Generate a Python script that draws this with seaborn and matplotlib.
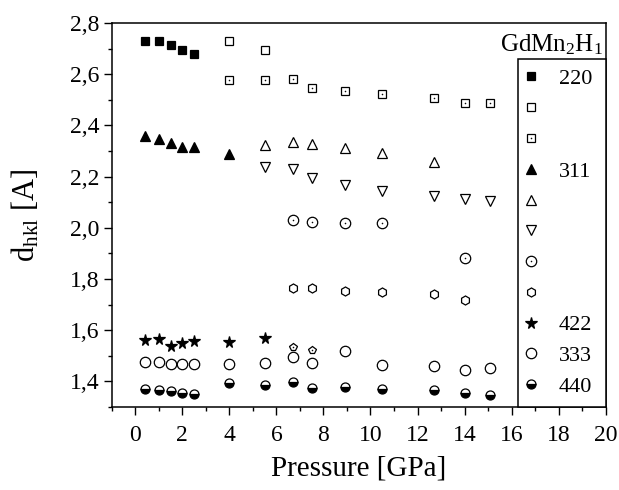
import matplotlib
matplotlib.use('Agg')
import matplotlib.pyplot as plt
import seaborn as sns
from matplotlib.lines import Line2D
from matplotlib.ticker import FixedLocator, MultipleLocator
from matplotlib.legend_handler import HandlerTuple

# ---------------- data ----------------
p220 = [0.4, 1.0, 1.5, 2.0, 2.5]
d220 = [2.731, 2.731, 2.713, 2.694, 2.680]

p_sq_open = [4.0, 5.5]
d_sq_open = [2.731, 2.696]

p_sq_dot = [4.0, 5.5, 6.7, 7.5, 8.9, 10.5, 12.7, 14.0, 15.1]
d_sq_dot = [2.576, 2.576, 2.581, 2.545, 2.535, 2.522, 2.507, 2.488, 2.486]

p311 = [0.4, 1.0, 1.5, 2.0, 2.5, 4.0]
d311 = [2.359, 2.345, 2.333, 2.316, 2.315, 2.290]

p_tri_up = [5.5, 6.7, 7.5, 8.9, 10.5, 12.7]
d_tri_up = [2.323, 2.337, 2.329, 2.312, 2.293, 2.258]

p_tri_dn = [5.5, 6.7, 7.5, 8.9, 10.5, 12.7, 14.0, 15.1]
d_tri_dn = [2.236, 2.228, 2.195, 2.166, 2.143, 2.125, 2.114, 2.105]

p_circ_dot = [6.7, 7.5, 8.9, 10.5, 14.0]
d_circ_dot = [2.031, 2.024, 2.019, 2.017, 1.881]

p_hex = [6.7, 7.5, 8.9, 10.5, 12.7, 14.0]
d_hex = [1.765, 1.764, 1.755, 1.748, 1.741, 1.716]

p422 = [0.4, 1.0, 1.5, 2.0, 2.5, 4.0, 5.5]
d422 = [1.560, 1.565, 1.538, 1.550, 1.558, 1.555, 1.568]

p_pent = [6.7, 7.5]
d_pent = [1.536, 1.521]

p333 = [0.4, 1.0, 1.5, 2.0, 2.5, 4.0, 5.5, 6.7, 7.5, 8.9, 10.5, 12.7, 14.0, 15.1]
d333 = [1.475, 1.475, 1.466, 1.469, 1.469, 1.469, 1.471, 1.494, 1.473, 1.520,
        1.464, 1.461, 1.443, 1.453]

p440 = [0.4, 1.0, 1.5, 2.0, 2.5, 4.0, 5.5, 6.7, 7.5, 8.9, 10.5, 12.7, 14.0, 15.1]
d440 = [1.371, 1.367, 1.361, 1.354, 1.349, 1.393, 1.384, 1.397, 1.375, 1.378,
        1.370, 1.367, 1.354, 1.348]

legend_labels = ['220', '', '', '311', '', '', '', '', '422', '333', '440']
legend_title = r'GdMn$_2$H$_1$'
x_ticks = [0, 2, 4, 6, 8, 10, 12, 14, 16, 18, 20]
y_ticks = [1.4, 1.6, 1.8, 2.0, 2.2, 2.4, 2.6, 2.8]
y_tick_labels = ['1,4', '1,6', '1,8', '2,0', '2,2', '2,4', '2,6', '2,8']
x_label = 'Pressure [GPa]'
y_label = r'd$_{\mathrm{hkl}}$ [A]'

# ---------------- style ----------------
sns.set_theme(style='ticks')
plt.rcParams['font.family'] = ['Liberation Serif', 'DejaVu Serif']
plt.rcParams['mathtext.fontset'] = 'custom'
plt.rcParams['mathtext.rm'] = 'Liberation Serif'
plt.rcParams['mathtext.it'] = 'Liberation Serif:italic'
plt.rcParams['axes.linewidth'] = 1.1

fig = plt.figure(figsize=(6.19, 4.90), dpi=100)
ax = fig.add_axes([0.1805, 0.1694, 0.798, 0.7837])

K = 'black'
W = 'white'
series = [
    # (x, y, style, dot overlay)
    (p220, d220, dict(marker='s', ms=5.5, mfc=K), False),
    (p_sq_open, d_sq_open, dict(marker='s', ms=5.5, mfc=W), False),
    (p_sq_dot, d_sq_dot, dict(marker='s', ms=5.5, mfc=W), True),
    (p311, d311, dict(marker='^', ms=7, mfc=K), False),
    (p_tri_up, d_tri_up, dict(marker='^', ms=7, mfc=W), False),
    (p_tri_dn, d_tri_dn, dict(marker='v', ms=7, mfc=W), False),
    (p_circ_dot, d_circ_dot, dict(marker='o', ms=7.5, mfc=W), True),
    (p_hex, d_hex, dict(marker='h', ms=6.5, mfc=W), False),
    (p422, d422, dict(marker='*', ms=8.5, mfc=K), False),
    (p333, d333, dict(marker='o', ms=7.5, mfc=W), False),
    (p440, d440, dict(marker='o', ms=6.5, mfc=K, fillstyle='bottom',
                      markerfacecoloralt=W), False),
    (p_pent, d_pent, dict(marker='p', ms=6, mfc=W), True),
]

handles = []
for xs, ys, st, dot in series:
    sns.lineplot(x=xs, y=ys, ax=ax, color=K, linestyle='', mec=K, mew=0.9,
                 estimator=None, sort=False, errorbar=None, legend=False,
                 zorder=3, **st)
    h = Line2D([], [], color=K, linestyle='', mec=K, mew=0.9, **st)
    if dot:
        sns.lineplot(x=xs, y=ys, ax=ax, color=K, linestyle='', marker='.',
                     ms=1.6, mec=K, mfc=K, mew=0.3, estimator=None, sort=False,
                     errorbar=None, legend=False, zorder=4)
        hd = Line2D([], [], color=K, linestyle='', marker='.', ms=1.6,
                    mec=K, mfc=K, mew=0.3)
        h = (h, hd)
    handles.append(h)

handles = handles[:11]

ax.set_xlim(-1, 20)
ax.set_ylim(1.3, 2.8)
ax.xaxis.set_major_locator(FixedLocator(x_ticks))
ax.xaxis.set_minor_locator(MultipleLocator(1))
ax.yaxis.set_major_locator(FixedLocator(y_ticks))
ax.yaxis.set_minor_locator(MultipleLocator(0.1))
ax.set_yticklabels(y_tick_labels)
ax.tick_params(axis='both', which='major', direction='out', length=6,
               width=1.0, labelsize=17, color=K, labelcolor=K, pad=3)
ax.tick_params(axis='both', which='minor', direction='out', length=3,
               width=1.0, color=K)
ax.tick_params(axis='x', which='major', pad=7)
for s in ax.spines.values():
    s.set_color(K)
    s.set_visible(True)

ax.set_xlabel(x_label, fontsize=21, color=K, labelpad=7)
ax.set_ylabel(y_label, fontsize=22, color=K, labelpad=20)

leg = ax.legend(handles, legend_labels, loc='lower left',
                bbox_to_anchor=(0.8225, 0, 0.1775, 0.9), mode='expand',
                borderaxespad=0, frameon=True, fancybox=False, numpoints=1,
                fontsize=16, handlelength=0.3, handletextpad=1.1,
                borderpad=0.45, labelspacing=0.46,
                handler_map={tuple: HandlerTuple(ndivide=1)})
frame = leg.get_frame()
frame.set_edgecolor(K)
frame.set_linewidth(1.1)
frame.set_facecolor(W)
frame.set_alpha(1)
for t in leg.get_texts():
    t.set_color(K)

ax.text(0.995, 0.975, legend_title, transform=ax.transAxes, ha='right',
        va='top', fontsize=18, color=K)

fig.savefig('out.png', dpi=100, facecolor='white')
